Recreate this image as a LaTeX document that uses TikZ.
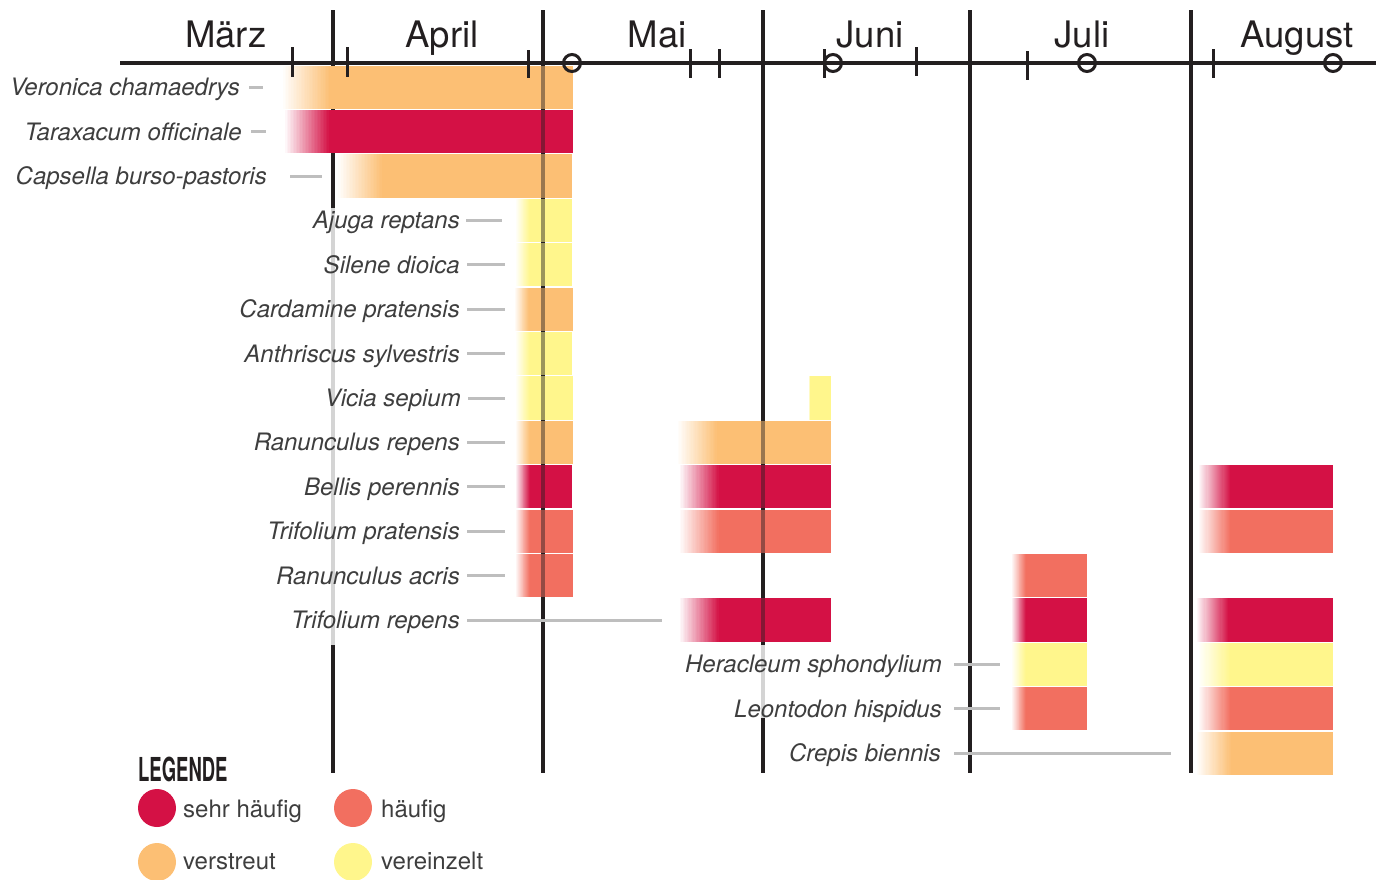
\documentclass[tikz,border=0pt]{standalone}
\usepackage{fontspec}
\setmainfont{TeX Gyre Heros}
\usepackage{xcolor}

\definecolor{ink}{RGB}{35,31,32}
\definecolor{txt}{RGB}{62,62,62}
\definecolor{cSehr}{RGB}{212,17,69}
\definecolor{cHaeu}{RGB}{242,111,96}
\definecolor{cVer}{RGB}{252,191,116}
\definecolor{cVerein}{RGB}{255,246,140}
\definecolor{leadgray}{RGB}{190,190,190}
\definecolor{palegray}{RGB}{212,212,212}

\tikzset{
	month/.style={anchor=base, inner sep=0pt, text=ink, font=\fontsize{36.5}{40}\selectfont},
	species/.style={anchor=base east, inner sep=0pt, text=txt, font=\fontsize{24}{28}\selectfont\itshape},
	leader/.style={draw=leadgray, line width=3pt},
	divider/.style={draw=ink, line width=3.2pt},
	tickmark/.style={draw=ink, line width=3pt},
	legdot/.style={circle, inner sep=0pt, minimum size=38pt},
	legtext/.style={anchor=base west, inner sep=0pt, text=txt, font=\fontsize{24}{28}\selectfont},
}

\begin{document}
\begin{tikzpicture}[x=1pt, y=-1pt]
		\useasboundingbox (0,0) rectangle (1384,879);
		\def\rtop{65}
		\def\rh{44.4}
		\def\nst{30}
		% month dividers
		\foreach \x in {543,970,1191} \draw[divider] (\x,10) -- (\x,773);
		\draw[divider] (333,10) -- (333,208);
		\draw[divider, draw=palegray] (333,208) -- (333,645);
		\draw[divider] (333,645) -- (333,773);
		\draw[divider] (763,10) -- (763,645);
		\draw[divider, draw=palegray] (763,645) -- (763,718);
		\draw[divider] (763,718) -- (763,773);
		% bars: row / from / to / colour / fade
		\foreach \r/\a/\b/\c/\f in {1/283/573/cVer/48, 2/285/573/cSehr/45, 3/338/572/cVer/45,
				4/516/572/cVerein/14, 5/516/572/cVerein/14, 6/515/573/cVer/14, 7/516/572/cVerein/14,
				8/516/573/cVerein/14, 8/809/831/cVerein/1,
				9/516/573/cVer/14, 9/678/831/cVer/40,
				10/516/572/cSehr/14, 10/680/831/cSehr/40, 10/1199/1333/cSehr/32,
				11/516/573/cHaeu/14, 11/680/831/cHaeu/40, 11/1199/1333/cHaeu/32,
				12/516/573/cHaeu/14, 12/1012/1087/cHaeu/14,
				13/680/831/cSehr/40, 13/1012/1087/cSehr/14, 13/1197/1333/cSehr/32,
				14/1012/1087/cVerein/14, 14/1199/1333/cVerein/32,
				15/1012/1087/cHaeu/14, 15/1199/1333/cHaeu/32,
				16/1197/1333/cVer/35}{
			\pgfmathsetmacro{\yt}{\rtop+(\r-1)*\rh+0.6}
			\pgfmathsetmacro{\yb}{\rtop+\r*\rh-0.6}
			\fill[fill=\c] (\a+\f,\yt) rectangle (\b,\yb);
			\foreach \k in {1,...,\nst}{
				\pgfmathsetmacro{\p}{\k*100/\nst}
				\pgfmathsetmacro{\xa}{\a+\f*(\k-1)/\nst}
				\pgfmathsetmacro{\xb}{\a+\f*\k/\nst+0.6}
				\fill[fill=\c!\p!white] (\xa,\yt) rectangle (\xb,\yb);
			}
		}
		\foreach \x in {543,763} \draw[divider, draw opacity=0.45] (\x,\rtop) -- (\x,645);
		% time axis
		\draw[divider] (120,63) -- (1376,63);
		\foreach \x/\t/\b in {292/47/77, 347/47/77, 528/50/78, 690/49/78, 719/49/78,
				824/49/78, 916/47/76, 1027/51/80, 1213/49/78}
			\draw[tickmark] (\x,\t) -- (\x,\b);
		\foreach \x in {572,833,1087,1333} \draw[tickmark] (\x,63) circle[radius=8.5pt];
		\foreach \m/\x [count=\i] in {März/226, April/442, Mai/657, Juni/870, Juli/1082, August/1297}
			\node[month] (m\i) at (\x,47) {\m};
		% species
		\foreach \r/\xr/\xs/\xe/\t in {1/240/249/263/Veronica chamaedrys,
				2/242/251/266/Taraxacum officinale, 3/267/290/322/Capsella burso-pastoris,
				4/460/466/502/Ajuga reptans, 5/460/467/505/Silene dioica,
				6/460/467/505/Cardamine pratensis, 7/460/467/505/Anthriscus sylvestris,
				8/461/468/505/Vicia sepium, 9/460/467/505/Ranunculus repens,
				10/460/467/505/Bellis perennis, 11/460/467/505/Trifolium pratensis,
				12/460/467/505/Ranunculus acris, 13/460/467/662/Trifolium repens,
				14/942/954/1000/Heracleum sphondylium, 15/942/954/1000/Leontodon hispidus,
				16/941/954/1171/Crepis biennis}{
			\pgfmathsetmacro{\yc}{\rtop+(\r-0.5)*\rh}
			\node[species] (sp\r) at (\xr,\yc+8.5) {\t};
			\coordinate (e\r) at (\xe,\yc);
			\path (sp\r.east |- e\r) ++(\xs-\xr,0) coordinate (s\r);
			\draw[leader] (s\r) -- (e\r);
		}
		% legend
		\node[anchor=base west, inner sep=0pt, text=ink] (leg) at (138,781)
			{\scalebox{0.56}[1]{\fontsize{33}{36}\selectfont\bfseries LEGENDE}};
		\node[legdot, fill=cSehr] (k1) at (157,808) {};
		\node[legtext] (t1) at (183,817) {sehr häufig};
		\node[legdot, fill=cHaeu] (k2) at (353,808) {};
		\node[legtext] (t2) at (381,817) {häufig};
		\node[legdot, fill=cVer] (k3) at (157,862) {};
		\node[legtext] (t3) at (183,869) {verstreut};
		\node[legdot, fill=cVerein] (k4) at (353,862) {};
		\node[legtext] (t4) at (381,869) {vereinzelt};
	\end{tikzpicture}
\end{document}
